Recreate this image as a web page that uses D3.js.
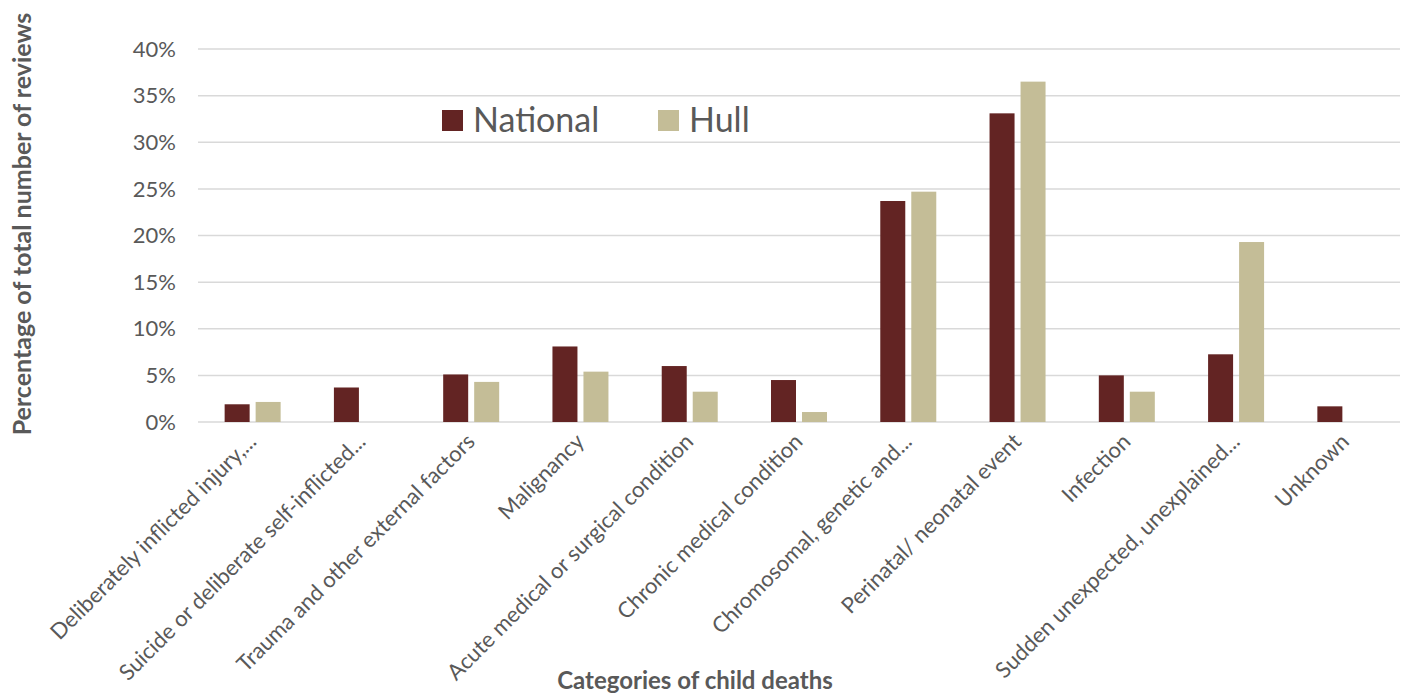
<!DOCTYPE html>
<html><head><meta charset="utf-8">
<script src="https://cdn.jsdelivr.net/npm/d3@7"></script>
<style>body{margin:0;background:#fff;} text{font-family:Lato,"Open Sans",sans-serif;}</style>
</head><body>
<svg id="c" width="1405" height="695"></svg>
<script>
const categories = ["Deliberately inflicted injury,...","Suicide or deliberate self-inflicted...","Trauma and other external factors","Malignancy","Acute medical or surgical condition","Chronic medical condition","Chromosomal, genetic and...","Perinatal/ neonatal event","Infection","Sudden unexpected, unexplained...","Unknown"];
const seriesNames = ["National","Hull"];
const national = [1.9,3.7,5.1,8.1,6.0,4.5,23.7,33.1,5.0,7.26,1.68];
const hull = [2.15,0,4.3,5.4,3.25,1.07,24.7,36.5,3.25,19.3,0];
const yTicks = [0,5,10,15,20,25,30,35,40];
const colors = ["#632423","#C4BD97"];

const svg = d3.select("#c");
const L=198,R=1400,T=49,B=422;
const x = d3.scaleBand().domain(categories).range([L,R]);
const y = d3.scaleLinear().domain([0,40]).range([B,T]);
const barW=25, gap=6;

// grid
svg.append("g").selectAll("line").data(yTicks).join("line")
  .attr("x1",L).attr("x2",R).attr("y1",d=>y(d)).attr("y2",d=>y(d))
  .attr("stroke","#D9D9D9").attr("stroke-width",1.5);

// y labels
svg.append("g").selectAll("text").data(yTicks).join("text")
  .attr("x",176).attr("y",d=>y(d)).attr("dy","0.35em").attr("text-anchor","end")
  .attr("font-size",22).attr("fill","#595959").text(d=>d+"%");

const data = categories.map((c,i)=>({c, v:[national[i],hull[i]]}));
const g = svg.append("g");
data.forEach(d=>{
  d.v.forEach((v,j)=>{
    if(!v) return;
    const cx = x(d.c)+x.bandwidth()/2;
    const bx = j===0 ? cx-gap/2-barW : cx+gap/2;
    g.append("rect").attr("x",bx).attr("width",barW)
      .attr("y",y(v)).attr("height",y(0)-y(v)).attr("fill",colors[j]);
  });
});

// x labels
svg.append("g").selectAll("text").data(categories).join("text")
  .attr("transform",d=>`translate(${x(d)+x.bandwidth()/2+5},${B+21}) rotate(-45)`)
  .attr("text-anchor","end").attr("font-size",22).attr("fill","#595959").text(d=>d);

// axis titles
svg.append("text").attr("transform","translate(31,224) rotate(-90)")
  .attr("text-anchor","middle").attr("font-size",25).attr("font-weight","bold").attr("fill","#595959")
  .text("Percentage of total number of reviews");
svg.append("text").attr("x",695).attr("y",689).attr("text-anchor","middle")
  .attr("font-size",24).attr("font-weight","bold").attr("fill","#595959")
  .text("Categories of child deaths");

// legend
const lg = svg.append("g");
const lx=[442,658];
seriesNames.forEach((s,i)=>{
  lg.append("rect").attr("x",lx[i]).attr("y",110).attr("width",21).attr("height",21).attr("fill",colors[i]);
  lg.append("text").attr("x",lx[i]+31).attr("y",132).attr("font-size",34).attr("fill","#595959").text(s);
});
</script>
</body></html>
